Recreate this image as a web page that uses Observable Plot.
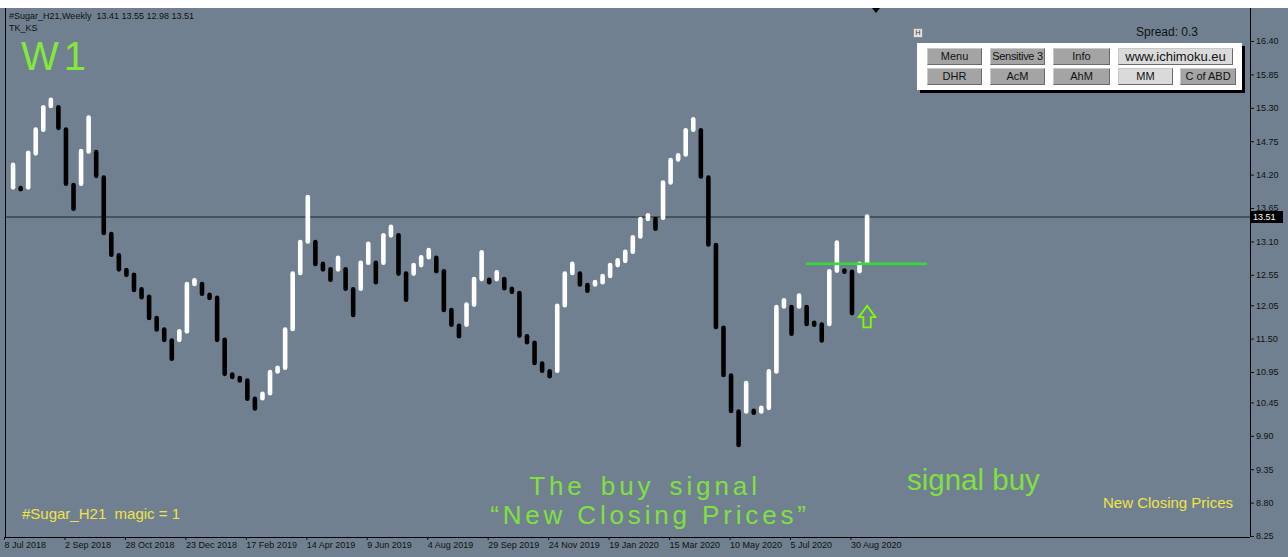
<!DOCTYPE html>
<html>
<head>
<meta charset="utf-8">
<script src="https://cdn.jsdelivr.net/npm/d3@7"></script>
<script src="https://cdn.jsdelivr.net/npm/@observablehq/plot@0.6"></script>
<style>
  html, body { margin: 0; padding: 0; background: #708090; }
  #wrap { position: relative; width: 1288px; height: 557px; overflow: hidden; font-family: "Liberation Sans", Arial, sans-serif; }
  #wrap svg { position: absolute; left: 0; top: 0; }
  .ov { position: absolute; white-space: pre; line-height: 1; }
  .btn { position: absolute; height: 17px; box-sizing: border-box; background: #a4a4a4; border-top: 1px solid #c8c8c8; border-left: 1px solid #c8c8c8; border-right: 1px solid #6a6a6a; border-bottom: 1px solid #6a6a6a; font-size: 11px; color: #111; text-align: center; line-height: 15px; }
  .btn.light { background: #dadada; }
</style>
</head>
<body>
<div id="wrap"></div>
<script>
// ---- data ----
const axisStart = "2018-07-08";     // first date label at the left edge
const firstBar = "2018-07-15";      // first drawn weekly bar
const weeksShown = 164.73;          // width of the visible window in weeks
const opens = [
  13.99, 13.98, 13.99, 14.55, 14.94, 15.33, 15.31, 14.94, 14.03, 14.05,
  14.58, 14.57, 14.15, 13.22, 12.87, 12.63, 12.55, 12.31, 12.19, 11.84,
  11.65, 11.47, 11.48, 11.62, 12.40, 12.40, 12.22, 12.17, 11.48, 10.91,
  10.85, 10.81, 10.51, 10.52, 10.60, 10.96, 11.02, 11.66, 12.58, 13.10,
  13.09, 12.73, 12.64, 12.64, 12.64, 12.31, 12.32, 12.75, 12.75, 12.75,
  13.20, 13.20, 12.57, 12.57, 12.71, 12.84, 12.83, 12.61, 11.97, 11.71,
  11.73, 12.06, 12.48, 12.47, 12.48, 12.48, 12.32, 12.25, 11.54, 11.43,
  11.09, 10.96, 10.97, 12.05, 12.58, 12.57, 12.38, 12.39, 12.43, 12.53,
  12.71, 12.78, 12.93, 13.18, 13.47, 13.47, 13.49, 14.07, 14.45, 14.53,
  14.94, 14.93, 14.15, 13.04, 11.68, 10.89, 10.30, 10.30, 10.31, 10.30,
  10.36, 10.96, 12.03, 12.02, 12.03, 12.02, 11.76, 11.73, 11.74, 12.62,
  12.62, 12.60, 12.61, 12.75
];
const closes = [
  14.36, 13.96, 14.56, 14.94, 15.31, 15.43, 14.97, 14.05, 13.64, 14.59,
  15.14, 14.18, 13.24, 12.88, 12.64, 12.55, 12.30, 12.18, 11.84, 11.65,
  11.48, 11.17, 11.62, 12.40, 12.46, 12.24, 12.17, 11.48, 10.92, 10.87,
  10.81, 10.51, 10.35, 10.59, 10.95, 11.02, 11.65, 12.57, 13.09, 13.83,
  12.73, 12.64, 12.47, 12.83, 12.32, 11.89, 12.75, 13.06, 12.43, 13.20,
  13.34, 12.57, 12.14, 12.71, 12.84, 12.96, 12.61, 11.97, 11.73, 11.54,
  12.06, 12.48, 12.92, 12.43, 12.59, 12.33, 12.27, 11.55, 11.44, 11.10,
  10.97, 10.88, 12.04, 12.57, 12.73, 12.39, 12.29, 12.43, 12.53, 12.71,
  12.79, 12.93, 13.17, 13.47, 13.53, 13.31, 14.07, 14.44, 14.52, 14.93,
  15.11, 14.17, 13.05, 11.69, 10.90, 10.31, 9.75, 10.77, 10.28, 10.36,
  10.96, 12.02, 12.13, 11.58, 12.21, 11.74, 11.73, 11.47, 12.61, 13.08,
  12.60, 11.92, 12.73, 13.51
];
const tickLabels = ["8 Jul 2018", "2 Sep 2018", "28 Oct 2018", "23 Dec 2018", "17 Feb 2019",
  "14 Apr 2019", "9 Jun 2019", "4 Aug 2019", "29 Sep 2019", "24 Nov 2019", "19 Jan 2020",
  "15 Mar 2020", "10 May 2020", "5 Jul 2020", "30 Aug 2020"];
const yTicks = [16.40, 15.85, 15.30, 14.75, 14.20, 13.65, 13.10, 12.55, 12.05, 11.50, 10.95, 10.45, 9.90, 9.35, 8.80, 8.25];
const yDomain = [8.234, 16.943];
const lastClose = 13.51;
const signalLevel = 12.74, signalFrom = "2020-07-19", signalTo = "2020-11-08";
const arrowDate = "2020-09-13", arrowLevel = 11.87;

// ---- build ----
const parseTick = d3.utcParse("%e %b %Y");
const tickDates = tickLabels.map(s => parseTick(s));
const x0 = new Date(axisStart + "T00:00:00Z");
const x1 = new Date(x0.getTime() + weeksShown * 7 * 864e5);
const b0 = new Date(firstBar + "T00:00:00Z");
const bars = opens.map((o, i) => ({date: d3.utcDay.offset(b0, 7 * i), open: o, close: closes[i]}));
const fmt = d3.utcFormat("%-d %b %Y");

const arrowSymbol = {
  draw(ctx) {
    ctx.moveTo(0, -10.8);
    ctx.lineTo(8.3, 0.5);
    ctx.lineTo(3.7, 0.5);
    ctx.lineTo(3.7, 10.8);
    ctx.lineTo(-3.7, 10.8);
    ctx.lineTo(-3.7, 0.5);
    ctx.lineTo(-8.3, 0.5);
    ctx.closePath();
  }
};

const chart = Plot.plot({
  width: 1288,
  height: 557,
  marginLeft: 5,
  marginRight: 38,
  marginTop: 8,
  marginBottom: 20,
  style: {background: "#708090", fontFamily: "Liberation Sans, Arial, sans-serif", fontSize: "9px", color: "#111", overflow: "visible"},
  x: {type: "utc", domain: [x0, x1]},
  y: {domain: yDomain},
  color: {type: "identity"},
  marks: [
    Plot.ruleY([lastClose], {stroke: "#1e242c", strokeWidth: 1}),
    Plot.ruleX(bars, {x: "date", y1: "open", y2: "close",
      stroke: d => d.close >= d.open ? "#ffffff" : "#000000",
      strokeWidth: 4.6, strokeLinecap: "round"}),
    Plot.ruleY([{y: signalLevel, a: new Date(signalFrom), b: new Date(signalTo)}],
      {y: "y", x1: "a", x2: "b", stroke: "#2fe02f", strokeWidth: 2.5}),
    Plot.dot([{date: new Date(arrowDate), price: arrowLevel}],
      {x: "date", y: "price", symbol: arrowSymbol, r: 5, fill: "none", stroke: "#7CFC00", strokeWidth: 1.8}),
    Plot.ruleX([x0, x1], {stroke: "#000"}),
    Plot.ruleY([yDomain[0]], {stroke: "#000"}),
    Plot.axisX({ticks: tickDates, tickFormat: d => fmt(d), tickSize: 3, tickPadding: 1.5,
      textAnchor: "start", dx: -1, label: null}),
    Plot.axisY({anchor: "right", ticks: yTicks, tickFormat: d => d.toFixed(2), tickSize: 3,
      tickPadding: 2.5, label: null})
  ]
});

const wrap = document.getElementById("wrap");
wrap.appendChild(chart);

function ov(html, css) {
  const d = document.createElement("div");
  d.className = "ov";
  d.innerHTML = html;
  Object.assign(d.style, css);
  wrap.appendChild(d);
  return d;
}

// white strip at top of window
ov("", {left: "0px", top: "0px", width: "1288px", height: "8px", background: "#ffffff"});
// chart shift marker
ov("", {left: "872px", top: "8px", width: "0px", height: "0px", borderLeft: "4px solid transparent", borderRight: "4px solid transparent", borderTop: "5px solid #000"});

// header texts
ov("#Sugar_H21,Weekly  13.41 13.55 12.98 13.51", {left: "9px", top: "11.5px", fontSize: "9px", color: "#111"});
ov("TK_KS", {left: "9px", top: "23.5px", fontSize: "9px", color: "#111"});
ov("W1", {left: "21px", top: "36px", fontSize: "40px", letterSpacing: "5px", color: "#84e83a"});
ov("Spread: 0.3", {left: "1136px", top: "25.5px", fontSize: "12px", color: "#111"});

// last price label on the axis
const yy = chart.scale("y").apply(lastClose);
ov(lastClose.toFixed(2), {left: "1251px", top: (yy - 6) + "px", width: "32px", height: "12px", lineHeight: "12px", background: "#000", color: "#fff", fontSize: "9px", paddingLeft: "2px", boxSizing: "border-box"});

// H button
ov("H", {left: "913px", top: "28px", width: "10px", height: "10px", boxSizing: "border-box", background: "#e2e2e2", border: "1px solid #8a8a8a", fontSize: "7px", lineHeight: "8px", textAlign: "center", color: "#333"});

// panel
const panel = ov("", {left: "917px", top: "43px", width: "325px", height: "47px", background: "#ffffff", boxShadow: "3px 3px 0 #000"});
const buttons = [
  ["Menu", 927, 48, 55, false], ["Sensitive 3", 990, 48, 55, false], ["Info", 1053, 48, 57, false], ["www.ichimoku.eu", 1118, 48, 115, true],
  ["DHR", 927, 68, 55, false], ["AcM", 990, 68, 55, false], ["AhM", 1053, 68, 57, false], ["MM", 1118, 68, 55, true], ["C of ABD", 1180, 68, 56, false]
];
for (const [t, l, tp, w, light] of buttons) {
  const b = document.createElement("div");
  b.className = "btn" + (light ? " light" : "");
  b.textContent = t;
  b.style.left = (l - 917) + "px";
  b.style.top = (tp - 43) + "px";
  b.style.width = w + "px";
  if (t === "www.ichimoku.eu") b.style.fontSize = "13px";
  if (t === "Sensitive 3") b.style.letterSpacing = "-0.3px";
  panel.appendChild(b);
}

// annotations
ov("The buy signal", {left: "445px", top: "472.5px", width: "400px", textAlign: "center", fontSize: "26px", letterSpacing: "3.9px", wordSpacing: "4px", color: "#80e040"});
ov("\u201CNew Closing Prices\u201D", {left: "450px", top: "502px", width: "400px", textAlign: "center", fontSize: "26px", letterSpacing: "3.85px", color: "#80e040"});
ov("signal buy", {left: "907px", top: "465px", fontSize: "29.5px", color: "#80e040"});
ov("New Closing Prices", {left: "1103px", top: "495px", fontSize: "15px", color: "#f0e446"});
ov("#Sugar_H21  magic = 1", {left: "22px", top: "505.5px", fontSize: "15px", color: "#f0e446"});
</script>
</body>
</html>
